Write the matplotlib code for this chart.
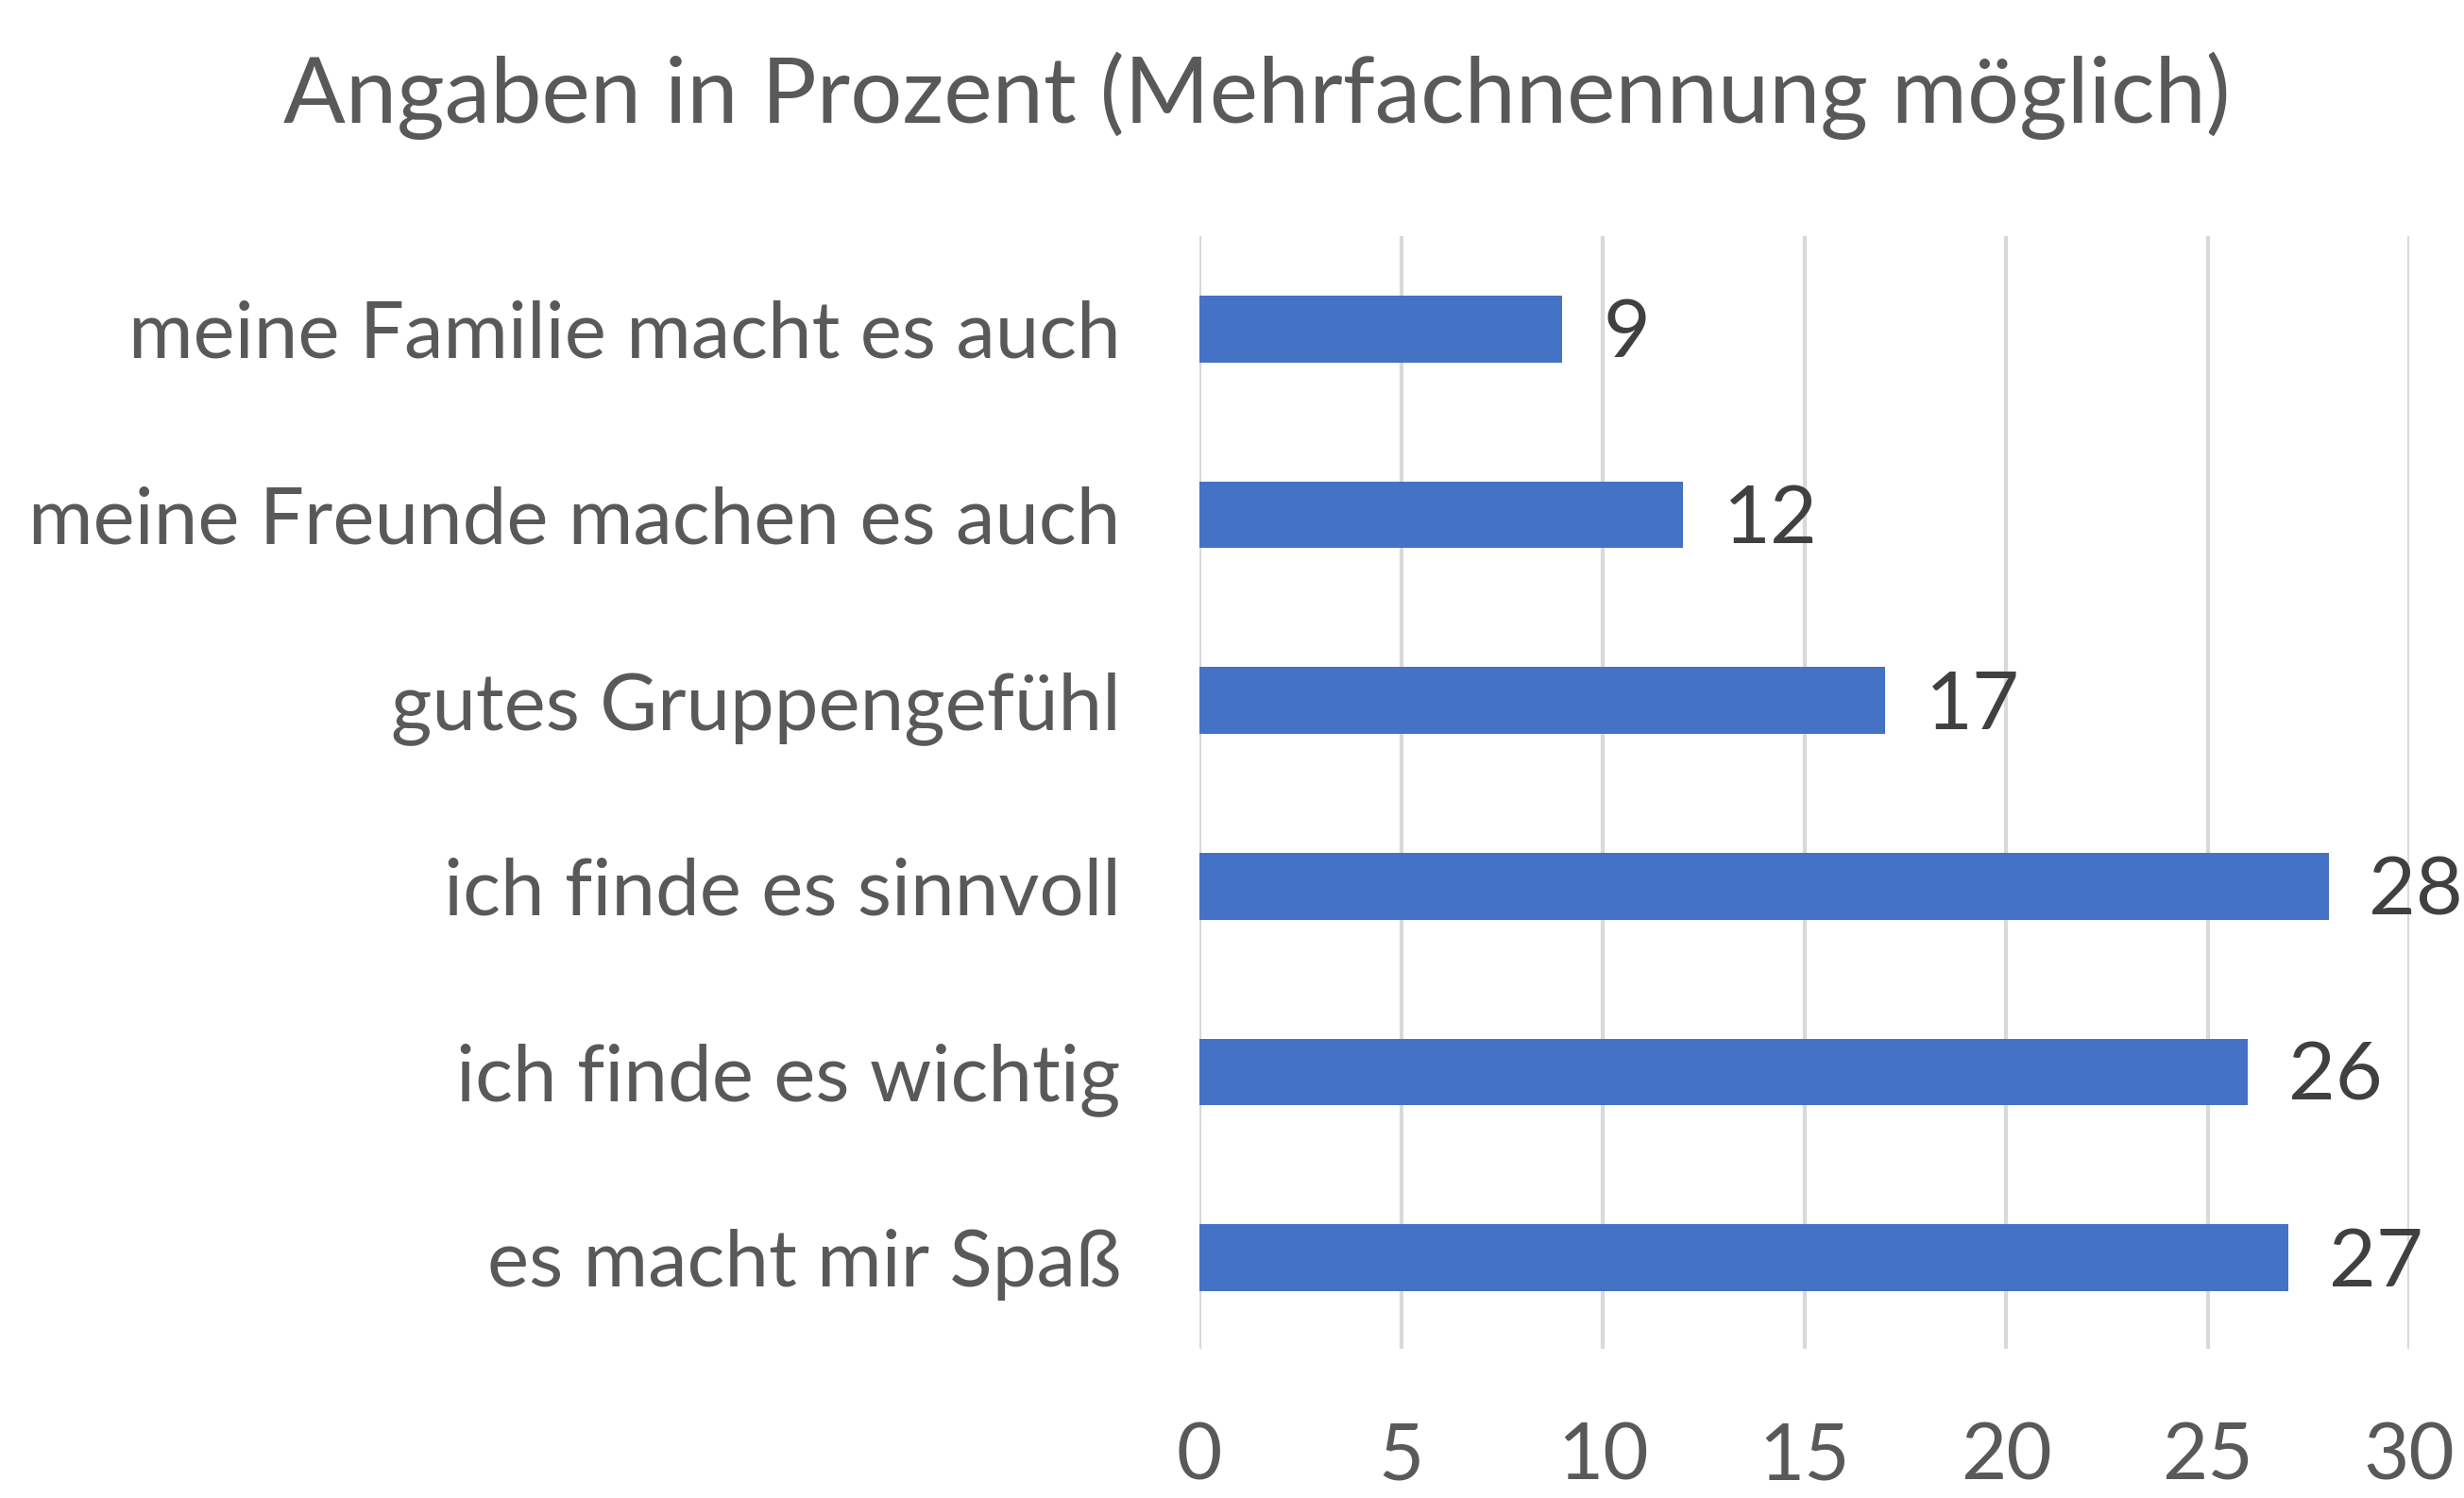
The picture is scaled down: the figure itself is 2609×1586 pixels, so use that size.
import numpy as np
import matplotlib.pyplot as plt

categories = ['es macht mir Spaß', 'ich finde es wichtig', 'ich finde es sinnvoll',
              'gutes Gruppengefühl', 'meine Freunde machen es auch',
              'meine Familie macht es auch']
values = [27, 26, 28, 17, 12, 9]
xticks = [0, 5, 10, 15, 20, 25, 30]
title = 'Angaben in Prozent (Mehrfachnennung möglich)'

plt.rcParams['font.family'] = ['Lato', 'DejaVu Sans']
text_col = '#595959'
bar_col = '#4472C4'

fig = plt.figure(figsize=(26.09, 15.86), dpi=100)
ax = fig.add_axes([0.4868, 0.0996, 0.491, 0.7428])

y = np.arange(len(categories))
ax.barh(y, values, height=0.36, color=bar_col, zorder=3)
for yi, v in zip(y, values):
    ax.text(v + 1.0, yi - 0.03, str(v), va='center', ha='left', fontsize=62, color='#404040')

ax.set_xlim(0, 30)
ax.set_ylim(-0.49, 5.5)
ax.set_xticks(xticks)
ax.set_yticks(y)
ax.set_yticklabels(categories)
ax.tick_params(axis='both', length=0, labelsize=60, labelcolor=text_col)
ax.tick_params(axis='x', pad=56)
ax.tick_params(axis='y', pad=60)
ax.grid(axis='x', color='#D9D9D9', linewidth=3, zorder=0)
for s in ax.spines.values():
    s.set_visible(False)

fig.text(0.51, 0.936, title, ha='center', va='center', fontsize=70, color=text_col)

fig.savefig('out.png', dpi=100)
